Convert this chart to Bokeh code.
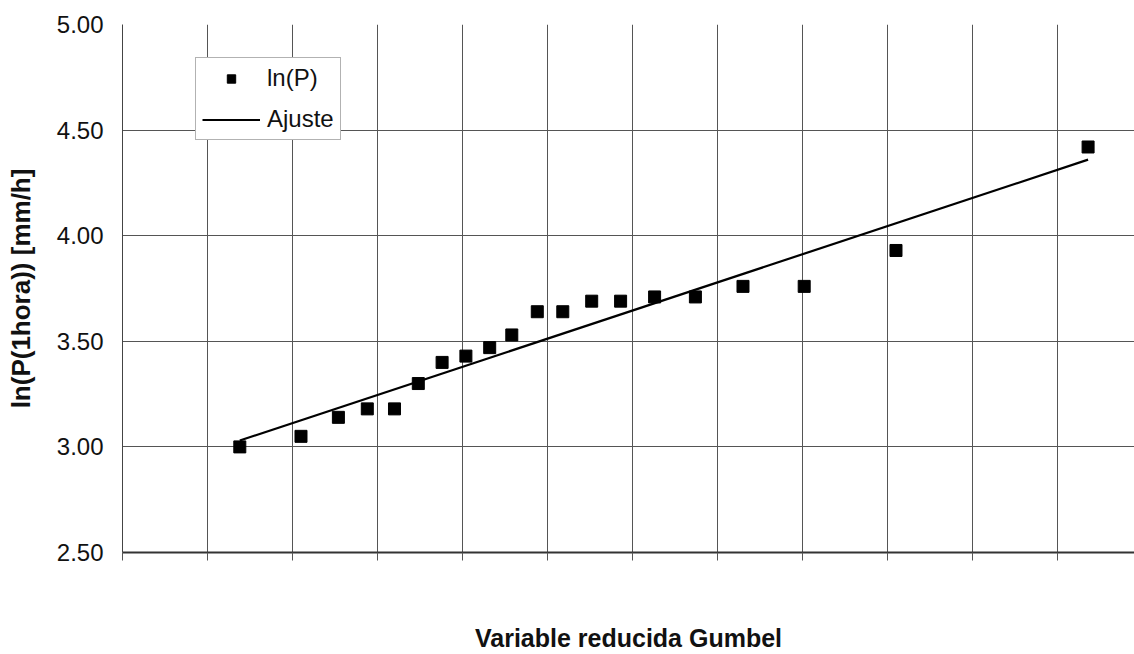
from bokeh.plotting import figure
from bokeh.models import FixedTicker, NumeralTickFormatter, Legend, LegendItem, Range1d
from bokeh.embed import file_html
from bokeh.resources import INLINE

# Gumbel reduced variable and ln(P) values
gumbel_x = [-1.31, -0.95, -0.73, -0.56, -0.40, -0.26, -0.12, 0.02, 0.16, 0.29,
            0.44, 0.59, 0.76, 0.93, 1.13, 1.37, 1.65, 2.01, 2.55, 3.68]
ln_p = [3.00, 3.05, 3.14, 3.18, 3.18, 3.30, 3.40, 3.43, 3.47, 3.53,
        3.64, 3.64, 3.69, 3.69, 3.71, 3.71, 3.76, 3.76, 3.93, 4.42]
fit_x = [-1.31, 3.68]
fit_y = [3.03, 4.36]
y_ticks = [2.5, 3.0, 3.5, 4.0, 4.5, 5.0]
x_ticks = [-2.0, -1.5, -1.0, -0.5, 0.0, 0.5, 1.0, 1.5, 2.0, 2.5, 3.0, 3.5, 4.0]

FONT = "Liberation Sans"

p = figure(width=1134, height=654, output_backend="svg", toolbar_location=None,
           x_range=Range1d(-2.0, 3.953), y_range=Range1d(2.5, 5.0),
           min_border_left=122, min_border_right=0, min_border_top=24, min_border_bottom=102)
p.outline_line_color = None
p.background_fill_color = "white"
p.border_fill_color = "white"

# grids
p.xgrid.ticker = FixedTicker(ticks=x_ticks)
p.ygrid.ticker = FixedTicker(ticks=y_ticks)
for g in (p.xgrid, p.ygrid):
    g.grid_line_color = "#555555"
    g.grid_line_width = 1
    g.grid_line_alpha = 1.0

# x axis (ticks only, no tick labels)
xa = p.xaxis[0]
xa.ticker = FixedTicker(ticks=x_ticks)
xa.major_label_overrides = {t: "" for t in x_ticks}
xa.major_label_text_font_size = "10px"
xa.major_label_standoff = 0
xa.major_tick_in = 0
xa.major_tick_out = 8
xa.major_tick_line_color = "#555555"
xa.minor_tick_line_color = None
xa.axis_line_color = "#333333"
xa.axis_line_width = 2
xa.axis_label = "Variable reducida Gumbel"
xa.axis_label_text_font = FONT
xa.axis_label_text_font_style = "bold"
xa.axis_label_text_font_size = "25px"
xa.axis_label_text_color = "#111111"
xa.axis_label_standoff = 63

# y axis
ya = p.yaxis[0]
ya.ticker = FixedTicker(ticks=y_ticks)
ya.formatter = NumeralTickFormatter(format="0.00")
ya.major_label_text_font = FONT
ya.major_label_text_font_size = "24px"
ya.major_label_text_color = "#111111"
ya.major_label_standoff = 19
ya.major_tick_in = 0
ya.major_tick_out = 0
ya.minor_tick_line_color = None
ya.axis_line_color = "#444444"
ya.axis_line_width = 1
ya.axis_label = "ln(P(1hora)) [mm/h]"
ya.axis_label_text_font = FONT
ya.axis_label_text_font_style = "bold"
ya.axis_label_text_font_size = "26px"
ya.axis_label_text_color = "#111111"
ya.axis_label_standoff = 18

pts = p.scatter(gumbel_x, ln_p, marker="square", size=12, color="black")
fit = p.line(fit_x, fit_y, line_color="black", line_width=2.2)

legend = Legend(items=[LegendItem(label="ln(P)", renderers=[pts]),
                       LegendItem(label="Ajuste", renderers=[fit])],
                location=(73, 412))
legend.label_text_font = FONT
legend.label_text_font_size = "24px"
legend.label_text_color = "#111111"
legend.glyph_width = 58
legend.glyph_height = 21
legend.label_height = 21
legend.label_standoff = 7
legend.padding = 6
legend.spacing = 13
legend.margin = 0
legend.border_line_color = "#666666"
legend.border_line_width = 1
legend.background_fill_color = "white"
legend.background_fill_alpha = 1.0
p.add_layout(legend, "center")

open("out.html", "w").write(file_html(p, INLINE))
